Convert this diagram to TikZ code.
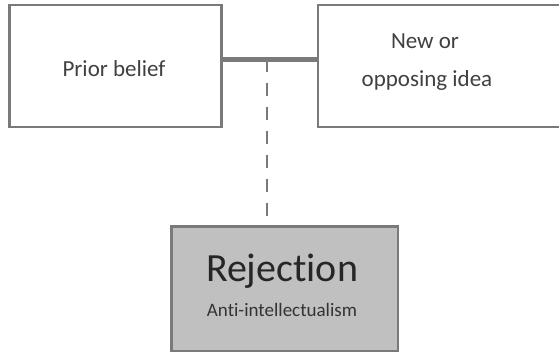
\documentclass[tikz,border=0pt]{standalone}
\usepackage{fontspec}
\setmainfont[Ligatures={NoCommon,NoRare}]{Carlito}
\definecolor{edgegray}{HTML}{7A7A7A}
\definecolor{textgray}{HTML}{404040}
\definecolor{rejfill}{HTML}{C0C0C0}

\begin{document}
\begin{tikzpicture}[x=1pt,y=1pt,
  box/.style={draw=edgegray,line width=2.5pt,fill=white,inner sep=0pt,minimum height=122pt},
  boxtext/.style={anchor=base,text=textgray,inner sep=0pt,font=\fontsize{23}{23}\selectfont}]
\useasboundingbox (0,0) rectangle (559,353);
\node[box,minimum width=212pt] (prior) at (115.5,287) {};
\node[box,minimum width=280pt,anchor=west] (idea) at (316.5,287) {};
\node[box,fill=rejfill,minimum width=226.5pt,minimum height=124.5pt] (reject) at (284.75,64.25) {};
\node[boxtext] (priortxt) at (114,276) {Prior belief};
\node[boxtext] (ideatxt1) at (425,304) {New or};
\node[boxtext] (ideatxt2) at (427,266.5) {opposing idea};
\node[boxtext,text=black!85,font=\fontsize{40}{40}\selectfont] (rejtxt) at (282,71) {Rejection};
\node[boxtext,text=black!80,font=\fontsize{19}{19}\selectfont] (rejsub) at (282,36.3) {Anti-intellectualism};
\coordinate (junction) at (267,293.5);
\draw[edgegray,line width=4.5pt] (prior.east |- junction) -- (idea.west |- junction);
\draw[edgegray,line width=2.5pt,dash pattern=on 13pt off 11pt] (junction) -- (reject.north -| junction);
\end{tikzpicture}
\end{document}
